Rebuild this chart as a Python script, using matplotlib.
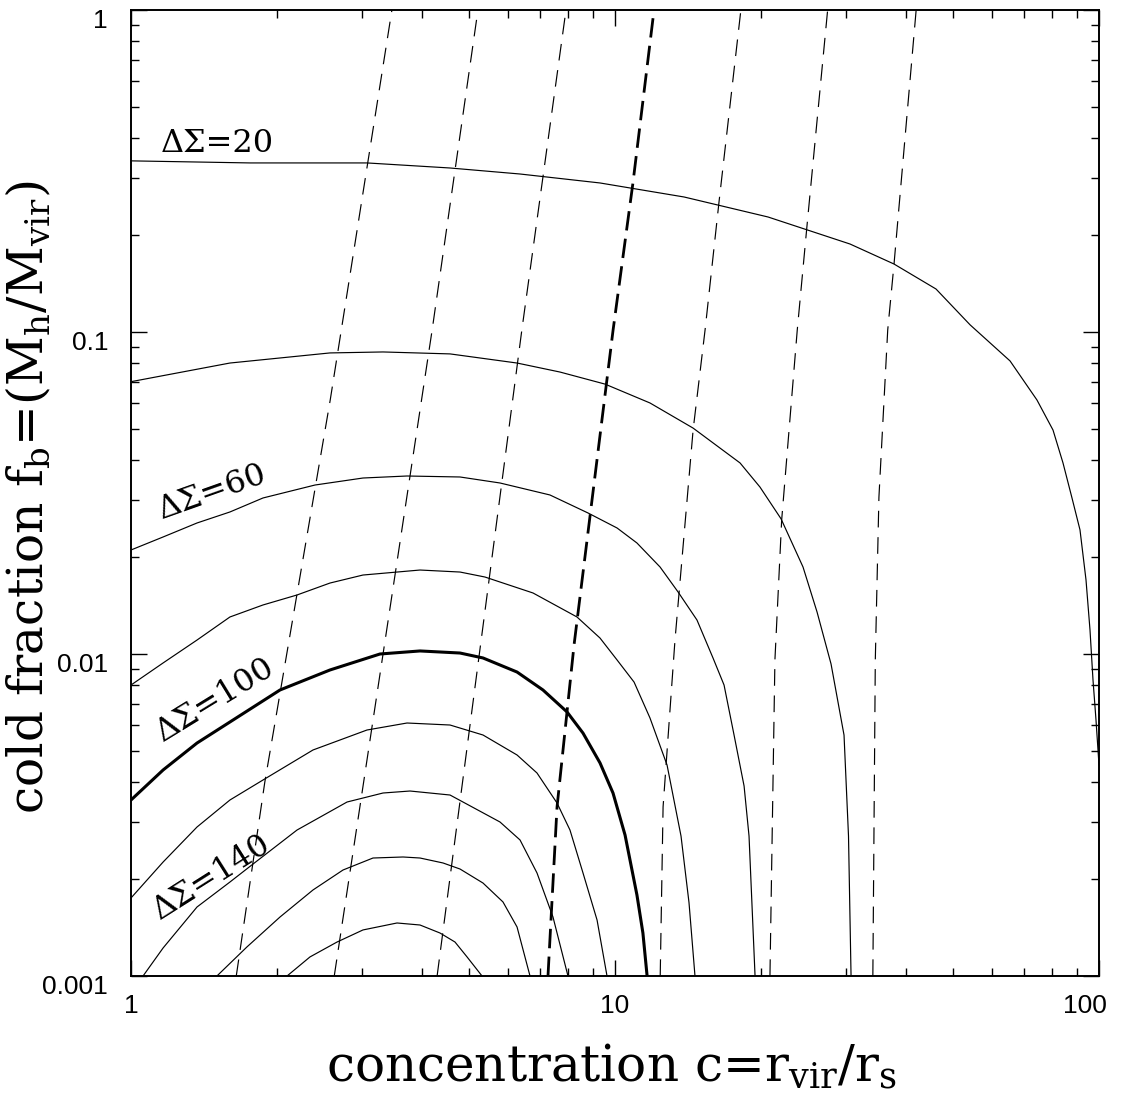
import matplotlib
matplotlib.use("Agg")
import matplotlib.pyplot as plt
import matplotlib.transforms as mtransforms
from matplotlib.ticker import FixedLocator, FixedFormatter, LogLocator, NullFormatter

plt.rcParams['font.family'] = ['DejaVu Serif']
plt.rcParams['mathtext.fontset'] = 'custom'
plt.rcParams['mathtext.rm'] = 'DejaVu Serif'
plt.rcParams['mathtext.it'] = 'DejaVu Serif:italic'
plt.rcParams['lines.scale_dashes'] = False

# solid contours of Delta Sigma (concentration c, cold fraction f_b)
c20 = [1.0, 1.762, 3.073, 4.562, 6.365, 9.311, 13.89, 20.71, 30.59, 37.71, 46.05, 54.14, 65.50, 74.44,
       80.35, 84.26, 87.95, 91.35, 94.00, 95.81, 97.19, 98.58, 100]
f20 = [0.340, 0.335, 0.335, 0.3231, 0.3095, 0.2903, 0.2626, 0.2276, 0.1876, 0.1626, 0.1360, 0.1053,
       0.0813, 0.0615, 0.0496, 0.0392, 0.0305, 0.0243, 0.0170, 0.01187, 0.00830, 0.00624, 0.00452]

c40 = [1.0, 1.601, 2.577, 3.317, 4.562, 6.275, 7.697, 9.535, 11.81, 14.50, 18.13, 19.93, 22.03, 24.46,
       26.15, 27.95, 29.73, 30.37, 30.74]
f40 = [0.0701, 0.0801, 0.0861, 0.0867, 0.0855, 0.0801, 0.0751, 0.0689, 0.0602, 0.0503, 0.0392, 0.0330,
       0.0263, 0.01863, 0.01350, 0.00931, 0.00560, 0.00272, 0.001]

c60 = [1.0, 1.165, 1.369, 1.601, 1.874, 2.400, 3.015, 3.718, 4.784, 5.786, 7.338, 8.796, 10.10, 11.10,
       12.39, 13.50, 14.77, 15.94, 16.80, 17.62, 18.48, 18.92, 19.47]
f60 = [0.02104, 0.02309, 0.02552, 0.02761, 0.03052, 0.03348, 0.03520, 0.03571, 0.03546, 0.03397, 0.03118,
       0.02741, 0.02462, 0.02212, 0.01863, 0.01558, 0.01275, 0.00972, 0.00801, 0.00560, 0.00389, 0.00272,
       0.001]

c80 = [1.0, 1.165, 1.369, 1.601, 1.874, 2.203, 2.577, 3.015, 3.955, 4.784, 5.387, 6.770, 8.346, 9.311,
       10.10, 10.95, 11.81, 12.81, 13.69, 14.22, 14.63]
f80 = [0.00801, 0.00938, 0.01105, 0.01303, 0.01420, 0.01525, 0.01661, 0.01759, 0.01823, 0.01797, 0.01734,
       0.01547, 0.01303, 0.01121, 0.00958, 0.00818, 0.00633, 0.00452, 0.00272, 0.00169, 0.001]

c100 = [1.0, 1.165, 1.369, 1.601, 2.032, 2.577, 3.269, 3.955, 4.784, 5.337, 6.275, 7.098, 7.958, 8.588,
        9.311, 9.906, 10.49, 11.10, 11.42, 11.65]
f100 = [0.00352, 0.004363, 0.005291, 0.006149, 0.007732, 0.00892, 0.0100, 0.01022, 0.01007, 0.00972,
        0.00879, 0.007732, 0.00661, 0.00568, 0.00459, 0.00370, 0.00274, 0.001785, 0.00136, 0.001]

c120 = [1.0, 1.165, 1.369, 1.601, 1.874, 2.377, 3.073, 3.718, 4.562, 5.337, 6.275, 6.900, 7.589, 8.072,
        8.588, 9.182, 9.627]
f120 = [0.001747, 0.002259, 0.002902, 0.00352, 0.004062, 0.005034, 0.005807, 0.006105, 0.006018, 0.005603,
        0.004857, 0.00427, 0.003446, 0.00284, 0.002089, 0.001492, 0.001]

c140 = [1.059, 1.165, 1.369, 1.601, 1.787, 2.203, 2.795, 3.317, 3.771, 4.562, 5.786, 6.365, 6.900, 7.445,
        7.995]
f140 = [0.001, 0.001222, 0.001638, 0.001958, 0.002227, 0.00284, 0.00347, 0.003701, 0.003754, 0.003648,
        0.003008, 0.002645, 0.002089, 0.001525, 0.001]

c160 = [1.505, 1.736, 2.032, 2.377, 2.742, 3.162, 3.648, 3.955, 4.412, 4.784, 5.337, 5.869, 6.275, 6.674]
f160 = [0.001, 0.001231, 0.001525, 0.00185, 0.002134, 0.002325, 0.002342, 0.002325, 0.002244, 0.002149,
        0.001944, 0.001698, 0.00142, 0.001]

c180 = [2.101, 2.343, 2.665, 3.015, 3.545, 3.955, 4.349, 4.671, 4.947, 5.312]
f180 = [0.001, 0.001146, 0.001275, 0.00139, 0.001461, 0.00144, 0.00136, 0.001275, 0.001146, 0.001]

contours = [(c20, f20), (c40, f40), (c60, f60), (c80, f80), (c100, f100),
            (c120, f120), (c140, f140), (c160, f160), (c180, f180)]
levels = [20, 40, 60, 80, 100, 120, 140, 160, 180]

# dashed near-vertical lines
dc1 = [1.65, 1.89, 2.58, 3.46]
df1 = [0.001, 0.0040, 0.0615, 1.0]
dc2 = [2.63, 4.19, 5.21]
df2 = [0.001, 0.1015, 1.0]
dc3 = [4.29, 6.42, 7.92]
df3 = [0.001, 0.1015, 1.0]
dc4 = [7.27, 7.59, 8.23, 9.91, 10.89, 12.04]
df4 = [0.001, 0.00335, 0.01067, 0.1015, 0.290, 1.0]
dc5 = [12.4, 12.57, 13.3, 14.5, 15.35, 16.4, 18.2]
df5 = [0.001, 0.00335, 0.0110, 0.0496, 0.1015, 0.253, 1.0]
dc6 = [20.9, 21.4, 22.1, 23.8, 24.9, 27.5]
df6 = [0.001, 0.00958, 0.0261, 0.1015, 0.210, 1.0]
dc7 = [34.1, 34.5, 35.1, 36.6, 37.7, 41.9]
df7 = [0.001, 0.00958, 0.0307, 0.1015, 0.1615, 1.0]
dashed = [(dc1, df1), (dc2, df2), (dc3, df3), (dc4, df4), (dc5, df5), (dc6, df6), (dc7, df7)]

# curve labels: text, baseline centre (c, f), rotation
label_text = ['ΔΣ=20', 'ΔΣ=60', 'ΔΣ=100', 'ΔΣ=140']
label_c = [1.505, 1.491, 1.527, 1.503]
label_f = [0.3623, 0.02997, 0.006845, 0.00193]
label_rot = [0, 19.5, 31.5, 32.3]

xticks = [1, 10, 100]
xticklabels = ['1', '10', '100']
yticks = [0.001, 0.01, 0.1, 1]
yticklabels = ['0.001', '0.01', '0.1', '1']

W, H = 1125, 1104
fig = plt.figure(figsize=(W / 100, H / 100), dpi=100)
ax = fig.add_axes([131 / W, 1 - 976 / H, 968 / W, 966 / H])
ax.set_xscale('log')
ax.set_yscale('log')

for lev, (cx, fy) in zip(levels, contours):
    lw = 2.2 if lev == 100 else 0.85
    ax.plot(cx, fy, color='black', lw=lw, solid_joinstyle='round')

for i, (cx, fy) in enumerate(dashed):
    if i == 3:
        ax.plot(cx, fy, color='black', lw=2.0, dashes=(14, 6))
    else:
        ax.plot(cx, fy, color='black', lw=0.85, dashes=(12, 7))

for t, cx, fy, r in zip(label_text, label_c, label_f, label_rot):
    ax.text(cx, fy, t, fontsize=23, rotation=r, ha='center', va='baseline',
            rotation_mode='anchor')

ax.set_xlim(1, 100)
ax.set_ylim(0.001, 1)

ax.xaxis.set_major_locator(FixedLocator(xticks))
ax.xaxis.set_major_formatter(FixedFormatter(xticklabels))
ax.yaxis.set_major_locator(FixedLocator(yticks))
ax.yaxis.set_major_formatter(FixedFormatter(yticklabels))
ax.xaxis.set_minor_locator(LogLocator(base=10, subs=range(2, 10), numticks=20))
ax.yaxis.set_minor_locator(LogLocator(base=10, subs=range(2, 10), numticks=20))
ax.xaxis.set_minor_formatter(NullFormatter())
ax.yaxis.set_minor_formatter(NullFormatter())

ax.tick_params(which='both', direction='in', top=True, right=True, width=1.0,
               labelsize=19, labelfontfamily='Liberation Sans')
ax.tick_params(which='major', length=11.5)
ax.tick_params(which='minor', length=5.8)
ax.tick_params(axis='x', pad=13)
ax.tick_params(axis='y', pad=16.5)
for s in ax.spines.values():
    s.set_linewidth(1.4)

# small nudges of the tick labels
ytk = ax.yaxis.get_major_ticks(len(yticks))
for t in ytk:
    t.label1.set_transform(t.label1.get_transform() +
                           mtransforms.ScaledTranslation(0, -0.09, fig.dpi_scale_trans))
xtk = ax.xaxis.get_major_ticks(len(xticks))
xtk[2].label1.set_transform(xtk[2].label1.get_transform() +
                            mtransforms.ScaledTranslation(-0.14, 0, fig.dpi_scale_trans))

fig.text(611 / W, 1 - 1082 / H, r'concentration c=r$_{\mathrm{vir}}$/r$_{\mathrm{s}}$',
         fontsize=36, ha='center', va='baseline')
fig.text(42 / W, 1 - 497 / H, r'cold fraction f$_{\mathrm{b}}$=(M$_{\mathrm{h}}$/M$_{\mathrm{vir}}$)',
         fontsize=35, ha='center', va='baseline', rotation=90, rotation_mode='anchor')

fig.savefig('out.png', dpi=100)
